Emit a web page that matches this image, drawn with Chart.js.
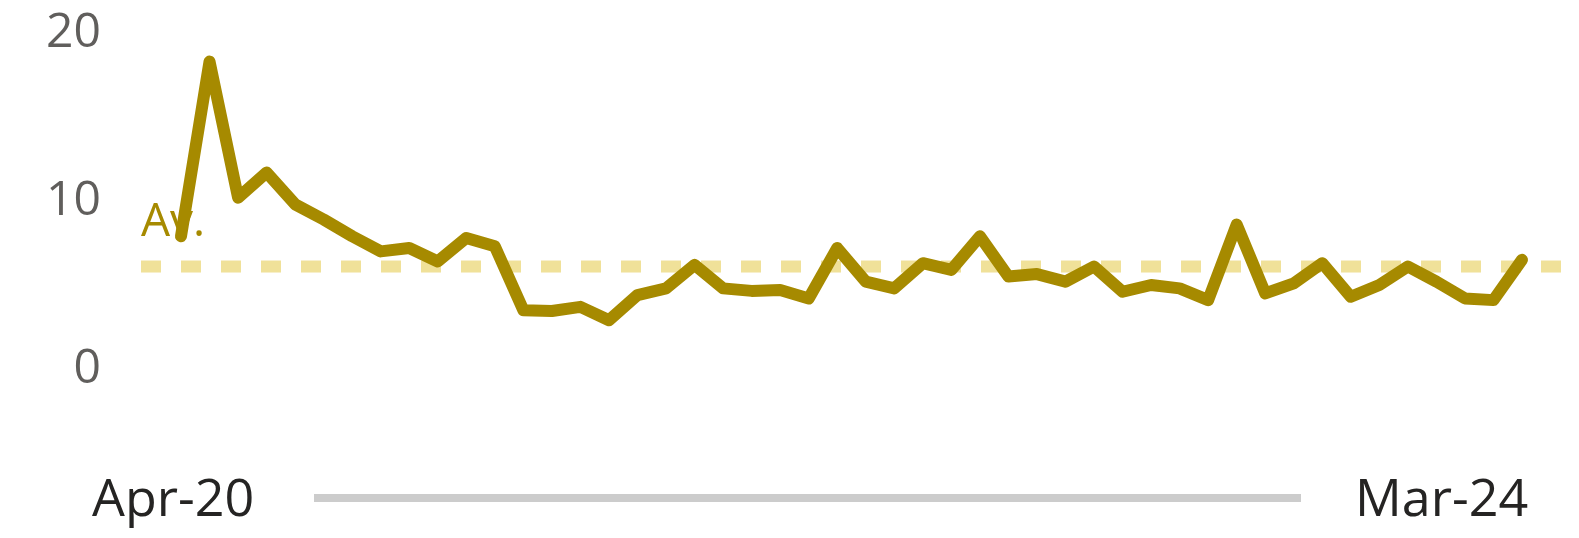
<!DOCTYPE html>
<html>
<head>
<meta charset="utf-8">
<script src="https://cdn.jsdelivr.net/npm/chart.js@4"></script>
<style>
  body { margin: 0; background: #fff; }
  #wrap { position: relative; width: 1579px; height: 538px; overflow: hidden; }
  #grafico { position: absolute; left: 0; top: 0; }
  .rotulo { position: absolute; top: 466px; font-family: 'Segoe UI', 'Open Sans', sans-serif; font-size: 52px; color: #252423; line-height: 60px; }
  #barra { position: absolute; left: 314px; top: 494px; width: 987px; height: 8px; background: #cccccc; }
</style>
</head>
<body>
<div id="wrap">
  <canvas id="grafico" width="1579" height="538"></canvas>
  <div class="rotulo" style="left:92px">Apr-20</div>
  <div id="barra"></div>
  <div class="rotulo" style="left:1355px">Mar-24</div>
</div>
<script>
// meses de abr/2020 a mar/2024
var meses = []
var nomes = ['Jan','Feb','Mar','Apr','May','Jun','Jul','Aug','Sep','Oct','Nov','Dec']
for (var a = 2020; a <= 2024; a++) {
  for (var m = 0; m < 12; m++) {
    if ((a == 2020 && m < 3) || (a == 2024 && m > 2)) continue
    meses.push(nomes[m] + '-' + String(a).slice(2))
  }
}

var valores = [7.9, 18.3, 10.2, 11.7, 9.8, 8.9, 7.9, 7.0, 7.2, 6.4,
  7.8, 7.3, 3.5, 3.45, 3.7, 2.9, 4.4, 4.8, 6.2, 4.8,
  4.65, 4.7, 4.2, 7.2, 5.2, 4.8, 6.3, 5.9, 7.9, 5.5,
  5.65, 5.2, 6.1, 4.6, 5.0, 4.8, 4.1, 8.6, 4.5, 5.1,
  6.3, 4.3, 5.0, 6.1, 5.2, 4.2, 4.1, 6.5]
var media = 6.1
var ticks_y = [0, 10, 20]

// linha tracejada da media + rotulo "Av."
var plugin_media = {
  id: 'media',
  beforeDatasetsDraw(chart) {
    var ctx = chart.ctx
    var y = chart.scales.y.getPixelForValue(media)
    ctx.save()
    ctx.strokeStyle = '#f0e199'
    ctx.lineWidth = 12
    ctx.setLineDash([20, 20])
    ctx.beginPath()
    ctx.moveTo(chart.chartArea.left - 40, y)
    ctx.lineTo(chart.chartArea.right + 40, y)
    ctx.stroke()
    ctx.setLineDash([])
    ctx.fillStyle = '#a68a00'
    ctx.font = '46px "Segoe UI", "Open Sans", sans-serif'
    ctx.textBaseline = 'alphabetic'
    ctx.textAlign = 'left'
    ctx.fillText('Av.', chart.chartArea.left - 40, y - 31)
    ctx.restore()
  }
}

var ctx = document.getElementById('grafico').getContext('2d')
var grafico = new Chart(ctx, {
  type: 'line',
  data: {
    labels: meses,
    datasets: [{
      data: valores,
      borderColor: '#a68a00',
      borderWidth: 12,
      borderCapStyle: 'round',
      borderJoinStyle: 'round',
      pointRadius: 0,
      tension: 0,
      clip: false
    }]
  },
  options: {
    responsive: false,
    animation: false,
    layout: { padding: { top: 33, bottom: 169, right: 57, left: 0 } },
    plugins: { legend: { display: false }, tooltip: { enabled: false } },
    scales: {
      x: { display: false },
      y: {
        min: 0,
        max: 20,
        afterFit(scale) {
          scale.width = 181
          scale.paddingTop = 0
          scale.paddingBottom = 0
        },
        afterBuildTicks(scale) { scale.ticks = ticks_y.map(v => ({ value: v })) },
        grid: { display: false, drawTicks: false },
        border: { display: false },
        ticks: {
          padding: 80,
          color: '#605e5c',
          font: { family: "'Segoe UI', 'Open Sans', sans-serif", size: 48 }
        }
      }
    }
  },
  plugins: [plugin_media]
})
</script>
</body>
</html>
